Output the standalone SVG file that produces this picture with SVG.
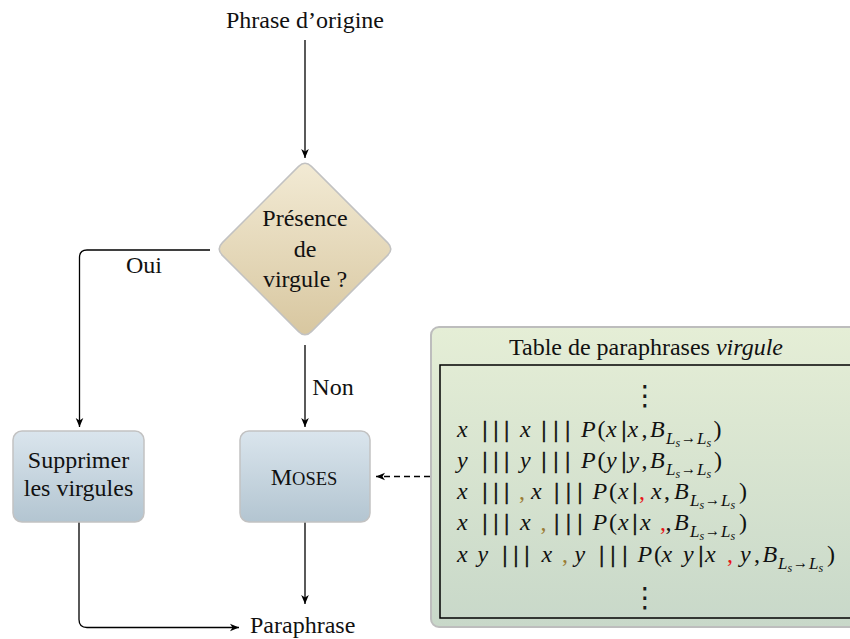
<svg xmlns="http://www.w3.org/2000/svg" width="850" height="639" viewBox="0 0 850 639">
<defs>
<linearGradient id="gDiam" x1="0" y1="0" x2="0" y2="1"><stop offset="0" stop-color="#f2ead4"/><stop offset="1" stop-color="#d8c7a0"/></linearGradient>
<linearGradient id="gBox" x1="0" y1="0" x2="0" y2="1"><stop offset="0" stop-color="#dae5ed"/><stop offset="1" stop-color="#b3c5d1"/></linearGradient>
<linearGradient id="gTab" x1="0" y1="0" x2="0" y2="1"><stop offset="0" stop-color="#e5eed6"/><stop offset="1" stop-color="#c8d8c9"/></linearGradient>
<marker id="ah" viewBox="-10 -5 10 10" refX="0" refY="0" markerWidth="10" markerHeight="10" markerUnits="userSpaceOnUse" orient="auto"><path d="M0,0 L-9,-3.8 L-6.5,0 L-9,3.8 Z" fill="#000"/></marker>
<style>
.t{font-family:"Liberation Serif",serif;font-size:24px;fill:#111}
.m{font-family:"Liberation Serif",serif;font-size:24px;fill:#111}
.i{font-style:italic}
.b{stroke:#111;stroke-width:0.7}
.sb{font-size:17px;font-style:italic}
.ss{font-size:12px;font-style:italic}
.ar{font-size:17px}
.br{fill:#9b7b35}
.rd{fill:#e8141a}
.vd{font-family:"DejaVu Sans",sans-serif;font-size:28px;fill:#1a1a1a}
.c{fill:none;stroke:#000;stroke-width:1.3}
.node{stroke:#c2c2c2;stroke-width:1.5}
</style>
</defs>
<rect width="850" height="639" fill="#fff"/>

<g id="connectors">
<path class="c" d="M305,40 V158" marker-end="url(#ah)"/>
<path class="c" d="M210,250 H87 Q79.5,250 79.5,257.5 V427" marker-end="url(#ah)"/>
<path class="c" d="M305,345 V427" marker-end="url(#ah)"/>
<path class="c" d="M305,522 V604" marker-end="url(#ah)"/>
<path class="c" d="M79,522 V619.5 Q79,627.5 87,627.5 H239" marker-end="url(#ah)"/>
<path class="c" d="M430,476.5 H376" stroke-dasharray="6,4" marker-end="url(#ah)"/>
<text class="t" x="144" y="273" text-anchor="middle">Oui</text>
<text class="t" x="333" y="395" text-anchor="middle">Non</text>
</g>

<g id="start">
<text class="t" x="305" y="28" text-anchor="middle">Phrase d’origine</text>
</g>

<g id="decision">
<path class="node" fill="url(#gDiam)" d="M298.6,166.4 Q305,160 311.4,166.4 L387.6,242.6 Q394,249 387.6,255.4 L311.4,331.6 Q305,338 298.6,331.6 L222.4,255.4 Q216,249 222.4,242.6 Z"/>
<text class="t" x="305" y="226" text-anchor="middle">Présence</text>
<text class="t" x="305" y="257" text-anchor="middle">de</text>
<text class="t" x="305" y="287" text-anchor="middle">virgule ?</text>
</g>

<g id="supprimer">
<rect class="node" x="13" y="431" width="131" height="91" rx="9" fill="url(#gBox)"/>
<text class="t" x="78.5" y="468" text-anchor="middle">Supprimer</text>
<text class="t" x="78.5" y="496" text-anchor="middle">les virgules</text>
</g>

<g id="moses">
<rect class="node" x="240" y="431" width="130" height="91" rx="9" fill="url(#gBox)"/>
<text class="t" x="304" y="485" text-anchor="middle">M<tspan font-size="18.5">OSES</tspan></text>
</g>

<g id="paraphrase">
<text class="t" x="250" y="633">Paraphrase</text>
</g>

<g id="table">
<rect x="431" y="327" width="440" height="300" rx="8" fill="url(#gTab)" stroke="#bdbdbd" stroke-width="2"/>
<rect x="440" y="365" width="430" height="253" fill="none" stroke="#000" stroke-width="1.5"/>
<text class="t" x="646" y="355" text-anchor="middle">Table de paraphrases <tspan font-style="italic">virgule</tspan></text>
<text class="vd" x="645" y="405" text-anchor="middle">⋮</text>

<text class="m"><tspan class="i" x="457" y="437">x</tspan><tspan class="b" x="482.6">|</tspan><tspan class="b" x="493.6">|</tspan><tspan class="b" x="504.3">|</tspan><tspan class="i" x="520">x</tspan><tspan class="b" x="541.6">|</tspan><tspan class="b" x="553.6">|</tspan><tspan class="b" x="565.3">|</tspan><tspan class="i" x="581">P</tspan><tspan x="597.5">(</tspan><tspan class="i" x="606">x</tspan><tspan class="b" x="621.6">|</tspan><tspan class="i" x="627.5">x</tspan><tspan x="641.5">,</tspan><tspan class="i" x="650">B</tspan><tspan class="sb" x="666" y="444">L</tspan><tspan class="ss" x="675.5" y="447">s</tspan><tspan class="ar" x="681" y="443" textLength="15" lengthAdjust="spacingAndGlyphs">→</tspan><tspan class="sb" x="697" y="444">L</tspan><tspan class="ss" x="706.5" y="447">s</tspan><tspan x="713.5" y="437">)</tspan></text>

<text class="m"><tspan class="i" x="457" y="468">y</tspan><tspan class="b" x="482.6">|</tspan><tspan class="b" x="493.6">|</tspan><tspan class="b" x="504.3">|</tspan><tspan class="i" x="520">y</tspan><tspan class="b" x="541.6">|</tspan><tspan class="b" x="553.6">|</tspan><tspan class="b" x="565.3">|</tspan><tspan class="i" x="581">P</tspan><tspan x="597.5">(</tspan><tspan class="i" x="606">y</tspan><tspan class="b" x="621.6">|</tspan><tspan class="i" x="628.5">y</tspan><tspan x="641.5">,</tspan><tspan class="i" x="650">B</tspan><tspan class="sb" x="666" y="475">L</tspan><tspan class="ss" x="675.5" y="478">s</tspan><tspan class="ar" x="681" y="474" textLength="15" lengthAdjust="spacingAndGlyphs">→</tspan><tspan class="sb" x="697" y="475">L</tspan><tspan class="ss" x="706.5" y="478">s</tspan><tspan x="714" y="468">)</tspan></text>

<text class="m"><tspan class="i" x="457" y="499">x</tspan><tspan class="b" x="482.6">|</tspan><tspan class="b" x="493.6">|</tspan><tspan class="b" x="504.3">|</tspan><tspan class="br" x="519">,</tspan><tspan class="i" x="531">x</tspan><tspan class="b" x="554.3">|</tspan><tspan class="b" x="566">|</tspan><tspan class="b" x="577.6">|</tspan><tspan class="i" x="592.5">P</tspan><tspan x="609">(</tspan><tspan class="i" x="618">x</tspan><tspan class="b" x="632.6">|</tspan><tspan class="rd" x="639">,</tspan><tspan class="i" x="651">x</tspan><tspan x="664">,</tspan><tspan class="i" x="674">B</tspan><tspan class="sb" x="690" y="506">L</tspan><tspan class="ss" x="699.5" y="509">s</tspan><tspan class="ar" x="705" y="505" textLength="15" lengthAdjust="spacingAndGlyphs">→</tspan><tspan class="sb" x="721" y="506">L</tspan><tspan class="ss" x="730.5" y="509">s</tspan><tspan x="739" y="499">)</tspan></text>

<text class="m"><tspan class="i" x="457" y="530">x</tspan><tspan class="b" x="482.6">|</tspan><tspan class="b" x="493.6">|</tspan><tspan class="b" x="504.3">|</tspan><tspan class="i" x="520">x</tspan><tspan class="br" x="540.5">,</tspan><tspan class="b" x="554.3">|</tspan><tspan class="b" x="566">|</tspan><tspan class="b" x="577.6">|</tspan><tspan class="i" x="592.5">P</tspan><tspan x="609">(</tspan><tspan class="i" x="618">x</tspan><tspan class="b" x="632.6">|</tspan><tspan class="i" x="640">x</tspan><tspan class="rd" x="660">,</tspan><tspan x="665.5">,</tspan><tspan class="i" x="674">B</tspan><tspan class="sb" x="690" y="537">L</tspan><tspan class="ss" x="699.5" y="540">s</tspan><tspan class="ar" x="705" y="536" textLength="15" lengthAdjust="spacingAndGlyphs">→</tspan><tspan class="sb" x="721" y="537">L</tspan><tspan class="ss" x="730.5" y="540">s</tspan><tspan x="739" y="530">)</tspan></text>

<text class="m"><tspan class="i" x="457" y="562">x</tspan><tspan class="i" x="477.5">y</tspan><tspan class="b" x="502.6">|</tspan><tspan class="b" x="513.6">|</tspan><tspan class="b" x="524.6">|</tspan><tspan class="i" x="541.5">x</tspan><tspan class="br" x="562">,</tspan><tspan class="i" x="574.5">y</tspan><tspan class="b" x="599.3">|</tspan><tspan class="b" x="610.6">|</tspan><tspan class="b" x="622.6">|</tspan><tspan class="i" x="637.5">P</tspan><tspan x="654">(</tspan><tspan class="i" x="661.5">x</tspan><tspan class="i" x="683">y</tspan><tspan class="b" x="698.6">|</tspan><tspan class="i" x="705">x</tspan><tspan class="rd" x="727">,</tspan><tspan class="i" x="740">y</tspan><tspan x="754">,</tspan><tspan class="i" x="762.5">B</tspan><tspan class="sb" x="778" y="569">L</tspan><tspan class="ss" x="787.5" y="572">s</tspan><tspan class="ar" x="793" y="568" textLength="15" lengthAdjust="spacingAndGlyphs">→</tspan><tspan class="sb" x="809" y="569">L</tspan><tspan class="ss" x="818.5" y="572">s</tspan><tspan x="827" y="562">)</tspan></text>

<text class="vd" x="645" y="607" text-anchor="middle">⋮</text>
</g>
</svg>
